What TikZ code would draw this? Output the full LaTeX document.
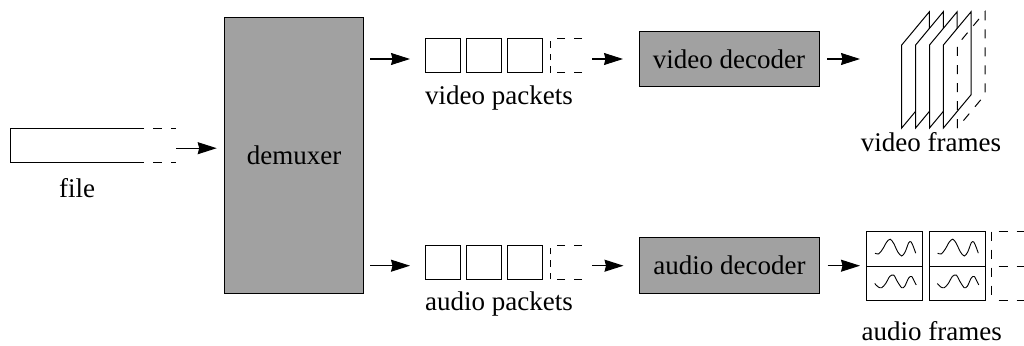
\documentclass[tikz,border=0pt]{standalone}
\usepackage{fontspec}
\setmainfont{Liberation Serif}
\usetikzlibrary{arrows.meta}
\definecolor{procgray}{HTML}{A1A1A1}
\begin{document}
\begin{tikzpicture}[x=1pt,y=-1pt,
  line width=1pt,
  every node/.style={font=\fontsize{27}{32}\selectfont, inner sep=0pt, outer sep=0pt},
  proc/.style={draw, fill=procgray, rectangle},
  pkt/.style={draw, rectangle, minimum width=35pt, minimum height=34.4pt},
  grp/.style={rectangle, draw=none},
  arr/.style={-{Stealth[length=19pt,width=12pt,inset=1.5pt]}},
  pdash/.style={dash pattern=on 8pt off 9pt},
  vdash/.style={dash pattern=on 6.5pt off 6pt},
  fdash/.style={dash pattern=on 9pt off 9pt},
  lbl/.style={anchor=base},
  wavea/.pic={\draw[line width=0.9pt, yscale=1.4] plot[smooth] coordinates {(8.3,3) (12,3.5) (16,0) (20,-5) (23.5,-7) (27,-4) (31,2) (35,5) (38.5,2) (42,-4.5) (44.5,-5) (47,-1) (49,3)};},
  waveb/.pic={\draw[line width=0.9pt, yscale=1.4] plot[smooth] coordinates {(8,0) (11.5,2.5) (15,3) (19,0) (23,-5) (27,-6) (31,-1) (35,3) (38,2) (42,-4) (45,-5) (48,-1) (49.5,1)};},
]
\useasboundingbox (0,0) rectangle (1024,345);

% ---------- file ----------
\node[grp, minimum width=165.3pt, minimum height=34pt] (file) at (93.35,145.2) {};
\draw (144,128.2) -- (10.7,128.2) -- (10.7,162.2) -- (144,162.2);
\draw[fdash, dash phase=9pt] (144,128.2) -- (file.north east);
\draw[fdash, dash phase=9pt] (144,162.2) -- (file.south east);
\node[lbl] (filelbl) at (77,197) {file};

% ---------- demuxer ----------
\node[proc, minimum width=138.6pt, minimum height=276pt] (demux) at (294,155.3) {demuxer};

% ---------- decoders ----------
\node[proc, minimum width=180pt, minimum height=55.7pt] (vdec) at (729,59) {video decoder};
\node[proc, minimum width=180pt, minimum height=55.7pt] (adec) at (729.5,265.7) {audio decoder};

% ---------- video packets ----------
\node[grp, minimum width=157pt, minimum height=34.4pt] (vpk) at (503.5,55.5) {};
\node[pkt] (vp1) at (442.5,55.5) {};
\node[pkt] (vp2) at (484.2,55.5) {};
\node[pkt] (vp3) at (525.2,55.5) {};
\draw[pdash] (vpk.north east) -- (550,38.3);
\draw[pdash] (vpk.south east) -- (550,72.7);
\draw[vdash] (550,72.7) -- (550,38.3);
\node[lbl] (vpklbl) at (499,104) {video packets};

% ---------- audio packets ----------
\node[grp, minimum width=157pt, minimum height=34.4pt] (apk) at (503.5,262.2) {};
\node[pkt] (ap1) at (442.5,262.2) {};
\node[pkt] (ap2) at (484.2,262.2) {};
\node[pkt] (ap3) at (525.2,262.2) {};
\draw[pdash] (apk.north east) -- (550,245);
\draw[pdash] (apk.south east) -- (550,279.4);
\draw[vdash] (550,279.4) -- (550,245);
\node[lbl] (apklbl) at (499,310.7) {audio packets};

% ---------- video frames ----------
\node[grp, minimum width=83.3pt, minimum height=116.3pt] (vfr) at (943.35,69.85) {};
\foreach \i in {0,...,3}{
  \pgfmathsetmacro{\fx}{901.7+13.9*\i}
  \draw[fill=white] (\fx,128) -- (\fx,45) -- (\fx+27.7,11.7) -- (\fx+27.7,94.7) -- cycle;
}
\draw[fdash] (957.3,128) -- (957.3,45) -- (985,11.7) -- (985,94.7) -- cycle;
\node[lbl] (vfrlbl) at (931,151) {video frames};

% ---------- audio frames ----------
\node[grp, minimum width=157.3pt, minimum height=69pt] (afr) at (945.35,266.2) {};
\draw (866.7,231.7) rectangle (922.3,300.7);
\draw (866.7,266.2) -- (922.3,266.2);
\draw (929.3,231.7) rectangle (985,300.7);
\draw (929.3,266.2) -- (985,266.2);
\draw[fdash] (991.7,231.7) -- (991.7,300.7);
\draw[fdash, dash phase=11pt] (991.7,231.7) -- (1024,231.7);
\draw[fdash, dash phase=11pt] (991.7,266.2) -- (1024,266.2);
\draw[fdash, dash phase=11pt] (991.7,300.7) -- (1024,300.7);
\pic at (866.7,249) {wavea};
\pic at (866.7,283.5) {waveb};
\pic at (929.3,249) {wavea};
\pic at (929.3,283.5) {waveb};
\node[lbl] (afrlbl) at (931.7,340) {audio frames};

% ---------- connectors ----------
\coordinate (farr) at ([yshift=-3pt]file.east);
\draw[arr, shorten >=8pt] (farr) -- (farr -| demux.west);

\draw[arr, shorten <=7pt, shorten >=15pt] (demux.east |- vdec.west) -- (vpk.west |- vdec.west);
\draw[arr, shorten <=10pt, shorten >=16pt] (vpk.east |- vdec.west) -- (vdec.west);
\draw[arr, shorten <=8pt, shorten >=41.7pt] (vdec.east) -- (vfr.west |- vdec.east);

\draw[arr, shorten <=7pt, shorten >=15pt] (demux.east |- adec.west) -- (apk.west |- adec.west);
\draw[arr, shorten <=10pt, shorten >=16pt] (apk.east |- adec.west) -- (adec.west);
\draw[arr, shorten <=8pt, shorten >=6.7pt] (adec.east) -- (afr.west |- adec.east);
\end{tikzpicture}
\end{document}
